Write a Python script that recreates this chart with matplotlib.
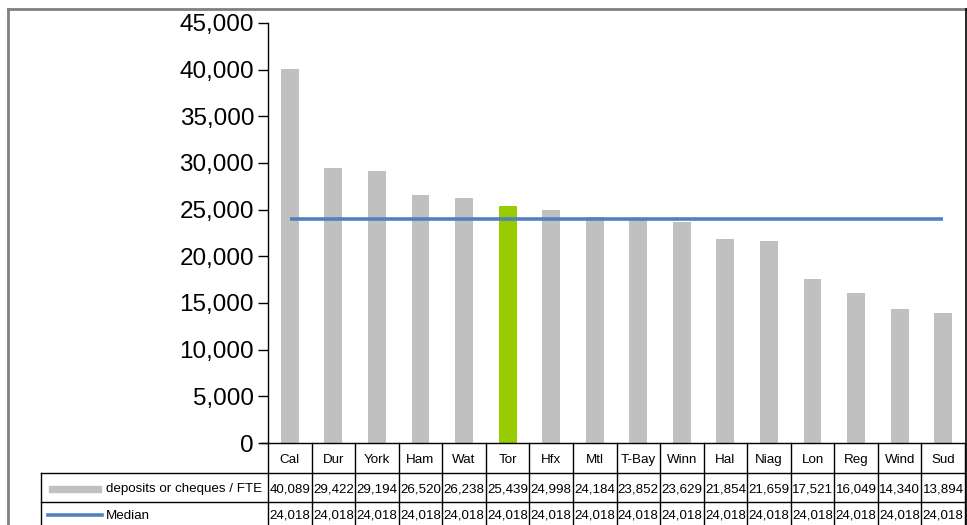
import matplotlib
matplotlib.use("Agg")
import matplotlib.pyplot as plt
from matplotlib.lines import Line2D
from matplotlib.patches import Rectangle
import matplotlib.transforms as mtransforms

plt.rcParams['font.family'] = ['Liberation Sans', 'DejaVu Sans']

categories = ["Cal", "Dur", "York", "Ham", "Wat", "Tor", "Hfx", "Mtl",
              "T-Bay", "Winn", "Hal", "Niag", "Lon", "Reg", "Wind", "Sud"]
deposits = [40089, 29422, 29194, 26520, 26238, 25439, 24998, 24184,
            23852, 23629, 21854, 21659, 17521, 16049, 14340, 13894]
median = [24018] * 16
series_names = ["deposits or cheques / FTE", "Median"]
highlight = "Tor"
y_ticks = list(range(0, 45001, 5000))

W, H = 967, 525
fig = plt.figure(figsize=(W / 100, H / 100), dpi=100)

def fx(px):
    return px / W

def fy(py):
    return 1 - py / H

ax_left, ax_right, ax_top, ax_bottom = 268, 965, 23, 443
ax = fig.add_axes([fx(ax_left), fy(ax_bottom), fx(ax_right - ax_left), (ax_bottom - ax_top) / H])

x = list(range(len(categories)))
bar_colors = ["#99CC00" if c == highlight else "#C0C0C0" for c in categories]
ax.bar(x, deposits, width=0.41, color=bar_colors, zorder=2)
ax.plot(x, median, color="#4F81BD", linewidth=2.6, zorder=3, solid_capstyle="butt")

ax.set_xlim(-0.5, len(categories) - 0.5)
ax.set_ylim(0, 45000)
ax.set_yticks(y_ticks)
ax.set_yticklabels([f"{v:,}" for v in y_ticks], fontsize=17.5)
ax.tick_params(axis="y", direction="out", length=7, width=1, pad=3)
ax.set_xticks([])
for side in ("top", "right", "bottom"):
    ax.spines[side].set_visible(False)
ax.spines["left"].set_linewidth(1)

# data table under the plot
row_edges = [443, 473, 502]
label_left = 41
tr = mtransforms.blended_transform_factory(ax.transData, fig.transFigure)
lc = "black"
lw = 1
fs = 9.6
text_rows = [460, 489, 516]

# horizontal lines
fig.add_artist(Line2D([fx(261), fx(ax_right)], [fy(row_edges[0])] * 2, color=lc, lw=lw))
for r in row_edges[1:]:
    fig.add_artist(Line2D([fx(label_left), fx(ax_right)], [fy(r)] * 2, color=lc, lw=lw))
# vertical lines
fig.add_artist(Line2D([fx(ax_left)] * 2, [fy(row_edges[0]), fy(H)], color=lc, lw=lw))
fig.add_artist(Line2D([fx(label_left)] * 2, [fy(row_edges[1]), fy(H)], color=lc, lw=lw))
for i in range(1, len(categories) + 1):
    fig.add_artist(Line2D([i - 0.5, i - 0.5], [fy(row_edges[0]), fy(H)],
                          transform=tr, color=lc, lw=lw))

for i, c in enumerate(categories):
    fig.text(i, fy(text_rows[0]), c, transform=tr,
             ha="center", va="center", fontsize=fs)
    fig.text(i, fy(text_rows[1]), f"{deposits[i]:,}", transform=tr,
             ha="center", va="center", fontsize=fs)
    fig.text(i, fy(text_rows[2]), f"{median[i]:,}", transform=tr,
             ha="center", va="center", fontsize=fs)

# legend keys in the row headers
fig.add_artist(Rectangle((fx(49), fy(492)), fx(52), 6 / H, color="#C0C0C0",
                         transform=fig.transFigure))
fig.add_artist(Line2D([fx(48), fx(102)], [fy(515)] * 2, color="#4F81BD", lw=2.6))
fig.text(fx(106), fy(text_rows[1]), series_names[0],
         ha="left", va="center", fontsize=fs)
fig.text(fx(106), fy(text_rows[2]), series_names[1], ha="left", va="center", fontsize=fs)

# outer frame
fig.add_artist(Line2D([fx(8), fx(966)], [fy(9)] * 2, color="#808080", lw=2))
fig.add_artist(Line2D([fx(8)] * 2, [fy(9), fy(H)], color="#808080", lw=2))
fig.add_artist(Line2D([fx(965.5)] * 2, [fy(9), fy(H)], color="black", lw=1.2))

fig.savefig("out.png", dpi=100)
